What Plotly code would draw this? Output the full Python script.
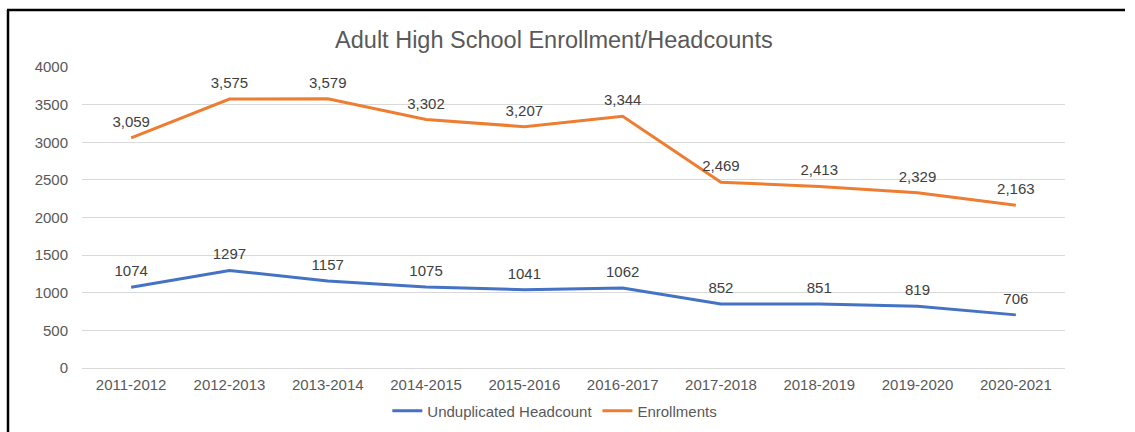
import plotly.graph_objects as go

years = ["2011-2012", "2012-2013", "2013-2014", "2014-2015", "2015-2016",
         "2016-2017", "2017-2018", "2018-2019", "2019-2020", "2020-2021"]
headcount = [1074, 1297, 1157, 1075, 1041, 1062, 852, 851, 819, 706]
enrollments = [3059, 3575, 3579, 3302, 3207, 3344, 2469, 2413, 2329, 2163]
y_ticks = [0, 500, 1000, 1500, 2000, 2500, 3000, 3500, 4000]

gray = "#595959"
font_family = "Liberation Sans, Arial, sans-serif"
clear = "rgba(0,0,0,0)"

fig = go.Figure()
fig.add_trace(go.Scatter(
    x=years, y=headcount, name="Unduplicated Headcount", mode="lines+markers+text",
    line=dict(color="#4472C4", width=3),
    marker=dict(size=10, color=clear),
    text=[str(v) for v in headcount], textposition="top center",
    textfont=dict(size=15, color="#404040", family=font_family),
))
fig.add_trace(go.Scatter(
    x=years, y=enrollments, name="Enrollments", mode="lines+markers+text",
    line=dict(color="#ED7D31", width=3),
    marker=dict(size=10, color=clear),
    text=[f"{v:,}" for v in enrollments], textposition="top center",
    textfont=dict(size=15, color="#404040", family=font_family),
))

fig.update_layout(
    width=1135, height=432,
    margin=dict(l=82, r=70, t=67, b=64, autoexpand=False),
    paper_bgcolor="white", plot_bgcolor="white",
    font=dict(family=font_family, color=gray, size=15),
    title=dict(text="Adult High School Enrollment/Headcounts",
               x=0.488, xanchor="center", yref="container",
               y=1 - 40 / 432, yanchor="middle",
               font=dict(size=23.5, color=gray, family=font_family)),
    showlegend=True,
    legend=dict(orientation="h", x=0.481, xanchor="center",
                yref="container", y=1 - 411 / 432, yanchor="middle",
                font=dict(size=15, color=gray), itemwidth=30,
                traceorder="normal"),
    xaxis=dict(showgrid=False, showline=False, ticks="", type="category",
               range=[-0.5, len(years) - 0.5], autorange=False,
               automargin=False, ticklabelstandoff=6,
               tickfont=dict(size=15, color=gray)),
    yaxis=dict(range=[0, 4000], tickvals=y_ticks, showgrid=True,
               gridcolor="#D9D9D9", gridwidth=1, zeroline=True,
               zerolinecolor="#D9D9D9", zerolinewidth=1, ticks="",
               automargin=False, ticklabelstandoff=13,
               tickfont=dict(size=15, color=gray)),
    shapes=[
        dict(type="line", xref="paper", yref="paper",
             x0=(7 - 82) / 983, x1=(1125 - 82) / 983,
             y0=(368 - 10) / 301, y1=(368 - 10) / 301,
             line=dict(color="black", width=2.5)),
        dict(type="line", xref="paper", yref="paper",
             x0=(8 - 82) / 983, x1=(8 - 82) / 983,
             y0=(368 - 10) / 301, y1=(368 - 440) / 301,
             line=dict(color="black", width=2.5)),
    ],
)

fig.write_html(
    "out.html",
    config={"displayModeBar": False},
    post_script="document.body.style.margin='0';document.body.style.padding='0';",
)
